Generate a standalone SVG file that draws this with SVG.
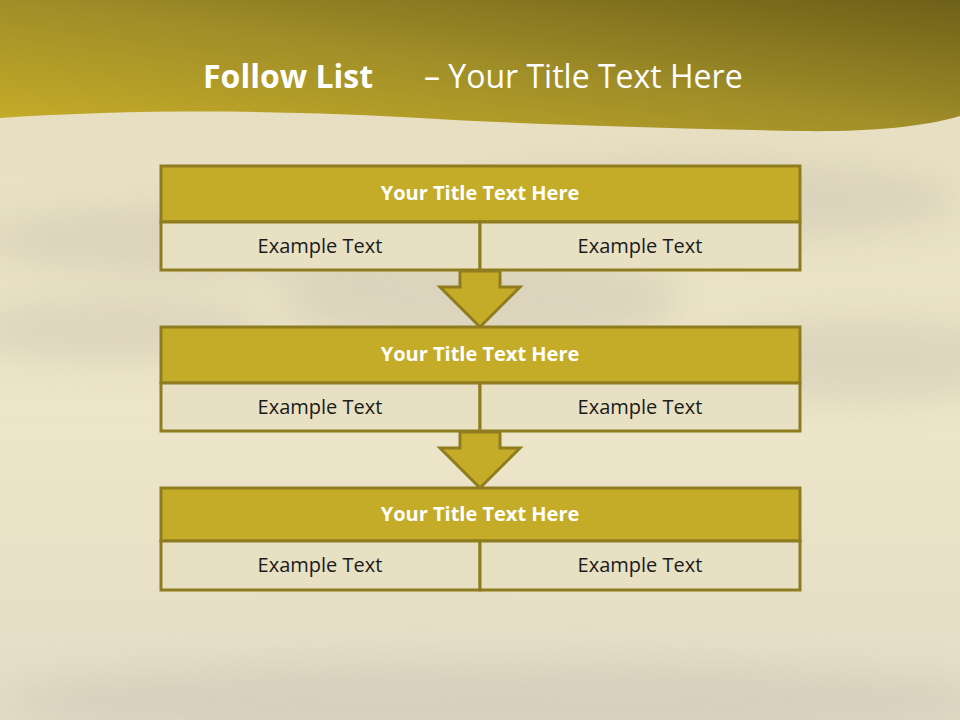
<svg xmlns="http://www.w3.org/2000/svg" width="960" height="720" viewBox="0 0 960 720">
<defs>
<linearGradient id="bg" x1="0" y1="0" x2="0" y2="1">
<stop offset="0" stop-color="#E6DDC0"/>
<stop offset="0.6" stop-color="#EDE5C8"/>
<stop offset="1" stop-color="#E3DCC6"/>
</linearGradient>
<linearGradient id="hdr" x1="0" y1="1" x2="1" y2="0">
<stop offset="0" stop-color="#C8AE28"/>
<stop offset="0.5" stop-color="#A08E28"/>
<stop offset="1" stop-color="#6E6018"/>
</linearGradient>
<filter id="blur" x="-50%" y="-50%" width="200%" height="200%"><feGaussianBlur stdDeviation="18"/></filter>
<style>
.title{fill:#C4AC28;stroke:#8F7C1E;stroke-width:3}
.cell{fill:#E8E0C2;stroke:#8F7C1E;stroke-width:3}
.arrow{fill:#C4AC28;stroke:#8F7C1E;stroke-width:3;stroke-linejoin:miter}
.tt{font-family:"Open Sans","Liberation Sans",sans-serif;font-weight:bold;font-size:20px;fill:#FFFFFF;text-anchor:middle}
.ct{font-family:"Open Sans","Liberation Sans",sans-serif;font-size:20px;fill:#1A1A1A;text-anchor:middle}
</style>
</defs>
<rect x="0" y="0" width="960" height="720" fill="url(#bg)"/>
<g filter="url(#blur)" opacity="0.25" fill="#B0AAA0">
<ellipse cx="200" cy="240" rx="220" ry="35"/>
<ellipse cx="700" cy="200" rx="260" ry="40"/>
<ellipse cx="860" cy="360" rx="160" ry="40"/>
<ellipse cx="120" cy="330" rx="150" ry="30"/>
<ellipse cx="480" cy="300" rx="200" ry="50"/>
<ellipse cx="500" cy="700" rx="500" ry="40"/>
</g>
<path d="M0 0 H960 V116 C920 128 860 132 800 131 C650 128 520 124 420 118 C300 111 150 108 0 118 Z" fill="url(#hdr)"/>
<text y="88" font-family="Open Sans,Liberation Sans,sans-serif" font-size="32" fill="#FFFFFF"><tspan x="203" font-weight="bold">Follow List</tspan><tspan x="424">– Your Title Text Here</tspan></text>
<g id="connectors">
<path class="arrow" d="M460 271 V287 H440 L480 327 L520 287 H500 V271 Z"/>
<path class="arrow" d="M460 432 V448 H440 L480 488 L520 448 H500 V432 Z"/>
</g>
<g id="block1">
<rect class="title" x="161" y="166" width="639" height="56"/>
<rect class="cell" x="161" y="222" width="319" height="48"/>
<rect class="cell" x="480" y="222" width="320" height="48"/>
<text class="tt" x="480" y="200">Your Title Text Here</text>
<text class="ct" x="320" y="253">Example Text</text>
<text class="ct" x="640" y="253">Example Text</text>
</g>
<g id="block2">
<rect class="title" x="161" y="327" width="639" height="56"/>
<rect class="cell" x="161" y="383" width="319" height="48"/>
<rect class="cell" x="480" y="383" width="320" height="48"/>
<text class="tt" x="480" y="361">Your Title Text Here</text>
<text class="ct" x="320" y="414">Example Text</text>
<text class="ct" x="640" y="414">Example Text</text>
</g>
<g id="block3">
<rect class="title" x="161" y="488" width="639" height="53"/>
<rect class="cell" x="161" y="541" width="319" height="49"/>
<rect class="cell" x="480" y="541" width="320" height="49"/>
<text class="tt" x="480" y="521">Your Title Text Here</text>
<text class="ct" x="320" y="572">Example Text</text>
<text class="ct" x="640" y="572">Example Text</text>
</g>
</svg>
